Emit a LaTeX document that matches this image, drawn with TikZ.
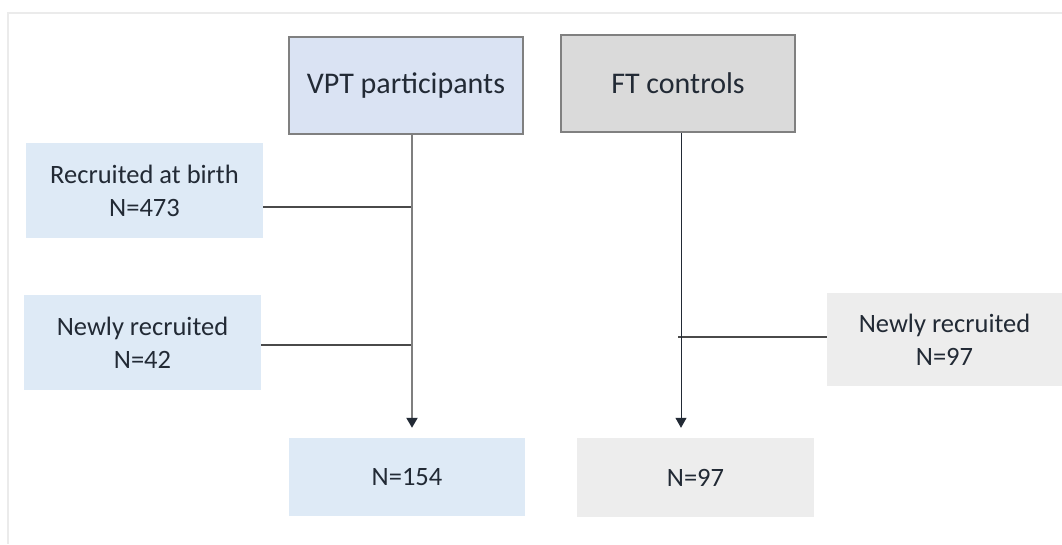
\documentclass[tikz,border=0pt]{standalone}
\usepackage{fontspec}
\setmainfont{Carlito}
\usetikzlibrary{arrows.meta}

\definecolor{inkdark}{HTML}{222A35}
\definecolor{edgegrey}{HTML}{808080}
\definecolor{linegrey}{HTML}{7F7F7F}
\definecolor{joingrey}{HTML}{4A4A4A}
\definecolor{framegrey}{HTML}{EBEBEB}
\definecolor{vptblue}{HTML}{DAE3F3}
\definecolor{paleblue}{HTML}{DEEAF6}
\definecolor{ftgrey}{HTML}{DADADA}
\definecolor{palegrey}{HTML}{EDEDED}

\begin{document}
\begin{tikzpicture}[x=1pt, y=-1pt,
  box/.style={rectangle, inner sep=0pt, align=center, text=inkdark,
    font=\fontsize{26.5}{33}\selectfont},
  headbox/.style={box, draw=edgegrey, line width=2pt,
    font=\fontsize{30}{36}\selectfont, minimum width=234pt, minimum height=97pt},
  tip/.style={-{Triangle[width=11pt,length=10pt,color=inkdark]}, shorten >=10pt},
  joinline/.style={draw=joingrey, line width=1.3pt}]
  \useasboundingbox (0,0) rectangle (1062,544);
  \draw[framegrey, line width=2pt] (8,544) -- (8,13) -- (1062,13);

  \node[headbox, fill=vptblue] (vpt) at (406,85.5) {VPT participants};
  \node[headbox, fill=ftgrey] (ft) at (678,83.5) {FT controls};
  \node[box, fill=paleblue, minimum width=237pt, minimum height=95pt] (birth) at (144.5,190.5) {Recruited at birth\\N=473};
  \node[box, fill=paleblue, minimum width=237pt, minimum height=95pt] (newvpt) at (142.5,342.5) {Newly recruited\\N=42};
  \node[box, fill=palegrey, minimum width=235pt, minimum height=93pt] (newft) at (944.5,339.5) {Newly recruited\\N=97};
  \node[box, fill=paleblue, minimum width=236pt, minimum height=78pt] (vptn) at (407,477) {N=154};
  \node[box, fill=palegrey, minimum width=237pt, minimum height=79pt] (ftn) at (695.5,477.5) {N=97};

  \coordinate (vptjoin1) at (412,207);
  \coordinate (vptjoin2) at (412,345);
  \coordinate (ftjoin) at (681,337);

  \draw[joinline] (birth.east |- vptjoin1) -- (vptjoin1)
                  (newvpt.east |- vptjoin2) -- (vptjoin2)
                  (newft.west |- ftjoin) -- ([xshift=-3pt]ftjoin);
  \draw[tip, draw=linegrey, line width=2pt] (vpt.south -| vptjoin1) -- (vptn.north -| vptjoin1);
  \draw[tip, draw=inkdark, line width=1pt] (ft.south -| ftjoin) -- (ftn.north -| ftjoin);
\end{tikzpicture}
\end{document}
